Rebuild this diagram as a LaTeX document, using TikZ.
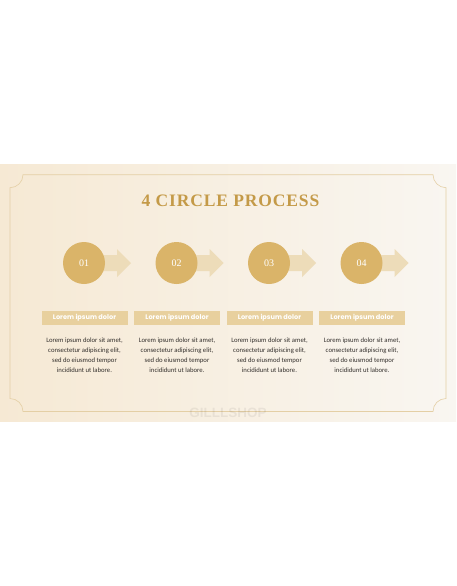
\documentclass[tikz,border=0pt]{standalone}
\usepackage{fontspec}
\setmainfont{Liberation Serif}
\newfontfamily\labelfont{Poppins}
\newfontfamily\bodyfont{Carlito}
\newfontfamily\markfont{Liberation Sans}
\newfontfamily\titlefont[LetterSpace=5]{Liberation Serif}

\definecolor{titlegold}{HTML}{C49A48}
\definecolor{circlegold}{HTML}{DAB469}
\definecolor{arrowbeige}{HTML}{EDDCB9}
\definecolor{boxgold}{HTML}{E8D09E}
\definecolor{framegold}{HTML}{E4CFA5}
\definecolor{slideleft}{HTML}{F6E9D4}
\definecolor{slideright}{HTML}{F9F6F1}
\definecolor{bodygray}{HTML}{332F2C}

\tikzset{
  stepcircle/.style={circle, fill=circlegold, minimum size=42pt, inner sep=0pt,
    text=white, font=\fontsize{10}{10}\selectfont},
  stepbox/.style={fill=boxgold, minimum width=86pt, minimum height=14pt, inner sep=0pt,
    text=white, font=\labelfont\bfseries\fontsize{6.6}{7}\selectfont},
  steptext/.style={align=center, text=bodygray, inner sep=0pt,
    font=\bodyfont\fontsize{6.7}{10}\selectfont},
  steparrow/.style={fill=arrowbeige}
}

\begin{document}
\begin{tikzpicture}[x=1pt,y=-1pt]
  \useasboundingbox (0,0) rectangle (456,586);
  \fill[white] (0,0) rectangle (456,586);

  % slide background
  \shade[left color=slideleft, right color=slideright] (0,164.5) rectangle (456,421);

  % frame with notched corners
  \draw[framegold, line width=0.6pt] (23,174.7) -- (433,174.7)
    arc[start angle=180, end angle=270, radius=13pt] -- (446,398.5)
    arc[start angle=90, end angle=180, radius=13pt] -- (23,411.5)
    arc[start angle=0, end angle=90, radius=13pt] -- (10,187.7)
    arc[start angle=-90, end angle=0, radius=13pt] -- cycle;

  % title
  \node[text=titlegold, font=\titlefont\bfseries\fontsize{17.5}{18}\selectfont] (title) at (230.5,201) {4 CIRCLE PROCESS};

  % arrows behind the circles
  \fill[steparrow] (84,255) -- (117,255) -- (117,249) -- (131,263) -- (117,277) -- (117,271) -- (84,271) -- cycle;
  \fill[steparrow] (176.5,255) -- (209.5,255) -- (209.5,249) -- (223.5,263) -- (209.5,277) -- (209.5,271) -- (176.5,271) -- cycle;
  \fill[steparrow] (269,255) -- (302,255) -- (302,249) -- (316,263) -- (302,277) -- (302,271) -- (269,271) -- cycle;
  \fill[steparrow] (361.5,255) -- (394.5,255) -- (394.5,249) -- (408.5,263) -- (394.5,277) -- (394.5,271) -- (361.5,271) -- cycle;

  % circles
  \node[stepcircle] (c1) at (84,263) {01};
  \node[stepcircle] (c2) at (176.5,263) {02};
  \node[stepcircle] (c3) at (269,263) {03};
  \node[stepcircle] (c4) at (361.5,263) {04};

  % label boxes
  \node[stepbox] (b1) at (84.5,317.7) {Lorem ipsum dolor};
  \node[stepbox] (b2) at (177,317.7) {Lorem ipsum dolor};
  \node[stepbox] (b3) at (269.5,317.7) {Lorem ipsum dolor};
  \node[stepbox] (b4) at (362,317.7) {Lorem ipsum dolor};

  % body texts
  \node[steptext, anchor=north] (t1) at (84.5,337.8) {Lorem ipsum dolor sit amet,\\consectetur adipiscing elit,\\sed do eiusmod tempor\\incididunt ut labore.};
  \node[steptext, anchor=north] (t2) at (177,337.8) {Lorem ipsum dolor sit amet,\\consectetur adipiscing elit,\\sed do eiusmod tempor\\incididunt ut labore.};
  \node[steptext, anchor=north] (t3) at (269.5,337.8) {Lorem ipsum dolor sit amet,\\consectetur adipiscing elit,\\sed do eiusmod tempor\\incididunt ut labore.};
  \node[steptext, anchor=north] (t4) at (362,337.8) {Lorem ipsum dolor sit amet,\\consectetur adipiscing elit,\\sed do eiusmod tempor\\incididunt ut labore.};

  % watermark
  \node[text=black, opacity=0.06, font=\markfont\bfseries\fontsize{13.5}{14}\selectfont] (mark) at (228,412.5) {GILLLSHOP};
\end{tikzpicture}
\end{document}
